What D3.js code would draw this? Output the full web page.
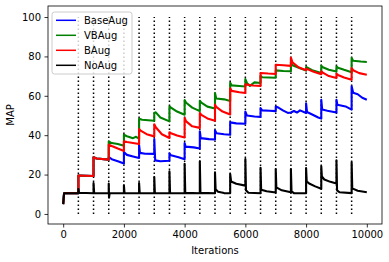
<!DOCTYPE html>
<html>
<head>
<meta charset="utf-8">
<script src="https://cdn.jsdelivr.net/npm/d3@7"></script>
<style>
  body { margin: 0; background: #fff; }
  svg { display: block; font-family: "DejaVu Sans", sans-serif; }
</style>
</head>
<body>
<div id="chart"></div>
<script>
// readings, [iteration, MAP]
var baseAug = [[0,5],[30,10.5],[500,10.5],[500,19.5],[1000,19.3],[1000,28.8],[1100,28.2],[1500,27.6],
  [1500,28.8],[1600,27.8],[1800,26.8],[2000,25.6],[2000,31.5],[2100,30],[2300,29.2],[2500,28.4],
  [2500,35],[2530,31],[2700,30.6],[3000,30.5],[3000,38],[3030,27.2],[3200,26.8],[3500,27],
  [3500,30.8],[3550,29.8],[3800,28.8],[4000,27.8],[4000,36],[4030,34.2],[4300,33.8],[4500,33.2],
  [4500,42],[4530,38.5],[4800,38],[5000,37.8],[5000,42.5],[5050,41],[5300,40.5],[5500,40.2],
  [5500,46.5],[5700,46],[6000,45.8],[6000,52],[6050,50],[6300,49.5],[6500,49.3],
  [6500,53.8],[6550,52.6],[6800,52.4],[7000,52.2],[7000,54.6],[7100,53.9],[7250,52.5],[7400,51.3],
  [7500,51.5],[7600,52.3],[7700,51.5],[7800,52.6],[8000,51.3],[8000,56.2],[8030,51.8],[8200,50.5],
  [8400,49],[8500,48.4],[8500,58],[8530,53],[8700,52.4],[9000,51.5],[9000,58],[9030,55.5],
  [9300,54.6],[9500,53],[9500,64.8],[9550,61.5],[9700,60.8],[9850,59],[10000,58]];

var vbAug = [[0,5],[30,10.5],[500,10.5],[500,19.5],[1000,19.3],[1000,28.8],[1100,28.2],[1500,27.6],
  [1500,36.8],[1600,36],[1800,35.5],[2000,34.6],[2000,40.2],[2100,39.5],[2300,38.5],[2400,39.2],
  [2500,38.2],[2500,48.3],[2600,47.8],[2800,47.6],[3000,47.3],[3000,51.3],[3050,51.6],[3200,49],
  [3500,47],[3500,54.6],[3550,54],[3750,52],[4000,50.4],[4000,57.8],[4050,56.5],[4250,54],
  [4500,52.2],[4500,57.5],[4550,56.5],[4750,54.5],[5000,53.6],[5000,61.4],[5040,58.6],[5300,58.2],
  [5500,57.4],[5500,66.6],[5550,65.3],[5800,65],[6000,64.7],[6000,68.5],[6050,66.5],[6150,65],
  [6300,66.8],[6500,66.5],[6500,70.2],[6550,69.4],[7000,69.2],[7000,72.9],[7250,72.6],[7500,72.5],
  [7500,77],[7550,75.5],[7800,74],[8000,72.8],[8000,74.6],[8200,73],[8500,71.6],[8500,75.3],
  [8550,74.5],[8750,73.2],[9000,72.3],[9000,74.9],[9050,74.3],[9250,73.2],[9500,72],[9500,79.2],
  [9550,77.8],[9800,77.4],[10000,77.2]];

var bAug = [[0,5],[30,10.5],[500,10.5],[500,19.5],[1000,19.3],[1000,28.8],[1100,28.2],[1500,27.6],
  [1500,35.2],[1600,34.5],[1800,33.2],[2000,32],[2000,36.9],[2100,36.5],[2300,36],[2500,35.5],
  [2500,43.1],[2550,42.3],[2750,40.5],[3000,39.4],[3000,45.5],[3050,44],[3250,40.5],[3500,38.6],
  [3500,41.5],[3550,41],[3750,39.8],[4000,38.8],[4000,48.7],[4050,47],[4250,44.5],[4500,43.7],
  [4500,51.3],[4550,50.3],[4750,48.5],[5000,47.3],[5000,55.5],[5050,54.2],[5250,52],[5500,50.5],
  [5500,63.8],[5550,62.5],[5800,61.8],[6000,61.4],[6000,65.8],[6250,65.2],[6500,65],[6500,71.6],
  [6750,71.3],[7000,71.1],[7000,75.8],[7250,75.5],[7500,75.2],[7500,79.4],[7550,77],[7750,74.5],
  [8000,73],[8000,73.8],[8250,72.2],[8500,71],[8500,72.5],[8550,71.8],[8750,70],[9000,69],
  [9000,71.2],[9050,70.6],[9250,69.3],[9500,68.2],[9500,74.1],[9550,73],[9750,71.5],[10000,70.7]];

var noAug = [[0,5],[30,10.5],[500,10.5],[500,12.7],[520,10.8],[1000,10.5],[1000,15.7],[1020,10.6],
  [1500,10.5],[1500,15.4],[1510,8.3],[1530,10.6],[2000,10.5],[2000,14.5],[2020,10.6],[2500,10.5],
  [2500,15.7],[2520,10.6],[3000,10.5],[3000,18.8],[3020,10.6],[3500,10.5],[3500,21.6],[3520,10.6],
  [4000,10.5],[4000,25.5],[4020,10.7],[4500,10.5],[4500,26.7],[4520,10.7],[5000,10.5],[5000,21.1],
  [5020,12.5],[5100,11.3],[5300,10.6],[5500,10.5],[5500,20.3],[5530,16.5],[5700,15.3],[6000,14.4],
  [6000,27.9],[6020,12],[6100,10.8],[6500,10.5],[6500,23.5],[6520,12.3],[6700,11.5],[7000,10.9],
  [7000,22.8],[7020,13.5],[7200,12],[7500,11],[7500,22.8],[7520,11.5],[7600,10.6],[8000,10.5],
  [8000,23.3],[8020,16.5],[8100,15.5],[8300,14],[8500,12.8],[8500,24.2],[8520,19],[8600,17.5],
  [8800,16.3],[9000,15.5],[9000,27.2],[9020,12],[9100,11],[9500,10.6],[9500,26.2],[9520,13],
  [9700,11.8],[10000,11]];

var switchPoints = [500,1000,1500,2000,2500,3000,3500,4000,4500,5000,5500,6000,6500,7000,7500,8000,8500,9000,9500];
var xTicks = [0,2000,4000,6000,8000,10000];
var yTicks = [0,20,40,60,80,100];

var names = ["BaseAug","VBAug","BAug","NoAug"];
var colors = ["#0000ff","#008000","#ff0000","#000000"];
var series = [baseAug, vbAug, bAug, noAug];

var width = 389, height = 262;
var margin = {left: 48, right: 382, top: 6, bottom: 224};

var svg = d3.select("#chart").append("svg")
  .attr("width", width)
  .attr("height", height);

var x = d3.scaleLinear().domain([-500, 10500]).range([margin.left, margin.right]);
var y = d3.scaleLinear().domain([-5.1, 105.6]).range([margin.bottom, margin.top]);

// dotted markers where the schedule switches
svg.append("g").selectAll("line")
  .data(switchPoints)
  .enter().append("line")
  .attr("x1", function(d) { return x(d); })
  .attr("x2", function(d) { return x(d); })
  .attr("y1", y(0))
  .attr("y2", y(100))
  .attr("stroke", "#000")
  .attr("stroke-width", 1.5)
  .attr("stroke-dasharray", "1.5,2.5");

var line = d3.line()
  .x(function(d) { return x(d[0]); })
  .y(function(d) { return y(d[1]); });

svg.append("g").selectAll("path")
  .data(series)
  .enter().append("path")
  .attr("d", line)
  .attr("fill", "none")
  .attr("stroke", function(d, i) { return colors[i]; })
  .attr("stroke-width", 2.1)
  .attr("stroke-linejoin", "round");

// axes
var xAxis = svg.append("g")
  .attr("transform", "translate(0," + margin.bottom + ")")
  .call(d3.axisBottom(x).tickValues(xTicks).tickSize(3.5).tickPadding(3.5).tickFormat(d3.format("d")));
var yAxis = svg.append("g")
  .attr("transform", "translate(" + margin.left + ",0)")
  .call(d3.axisLeft(y).tickValues(yTicks).tickSize(3.5).tickPadding(3.5));

[xAxis, yAxis].forEach(function(a) {
  a.select(".domain").remove();
  a.selectAll("line").attr("stroke", "#000").attr("stroke-width", 0.8);
  a.selectAll("text").attr("font-size", 10).attr("fill", "#000")
    .attr("font-family", "DejaVu Sans, sans-serif");
});

svg.append("rect")
  .attr("x", margin.left).attr("y", margin.top)
  .attr("width", margin.right - margin.left).attr("height", margin.bottom - margin.top)
  .attr("fill", "none").attr("stroke", "#000").attr("stroke-width", 0.8);

svg.append("text")
  .attr("x", (margin.left + margin.right) / 2).attr("y", 254)
  .attr("text-anchor", "middle").attr("font-size", 10)
  .text("Iterations");

svg.append("text")
  .attr("transform", "translate(14," + (margin.top + margin.bottom) / 2 + ") rotate(-90)")
  .attr("text-anchor", "middle").attr("font-size", 10)
  .text("MAP");

// legend
var legend = svg.append("g").attr("transform", "translate(52,12)");
legend.append("rect")
  .attr("width", 80).attr("height", 62)
  .attr("rx", 2.5)
  .attr("fill", "#fff").attr("fill-opacity", 0.8)
  .attr("stroke", "#cccccc").attr("stroke-width", 1);

var item = legend.selectAll(".item")
  .data(names)
  .enter().append("g")
  .attr("transform", function(d, i) { return "translate(0," + (8.3 + i * 15) + ")"; });
item.append("line")
  .attr("x1", 4).attr("x2", 24)
  .attr("stroke", function(d, i) { return colors[i]; })
  .attr("stroke-width", 1.5);
item.append("text")
  .attr("x", 32).attr("dy", "0.35em")
  .attr("font-size", 10)
  .text(function(d) { return d; });
</script>
</body>
</html>
